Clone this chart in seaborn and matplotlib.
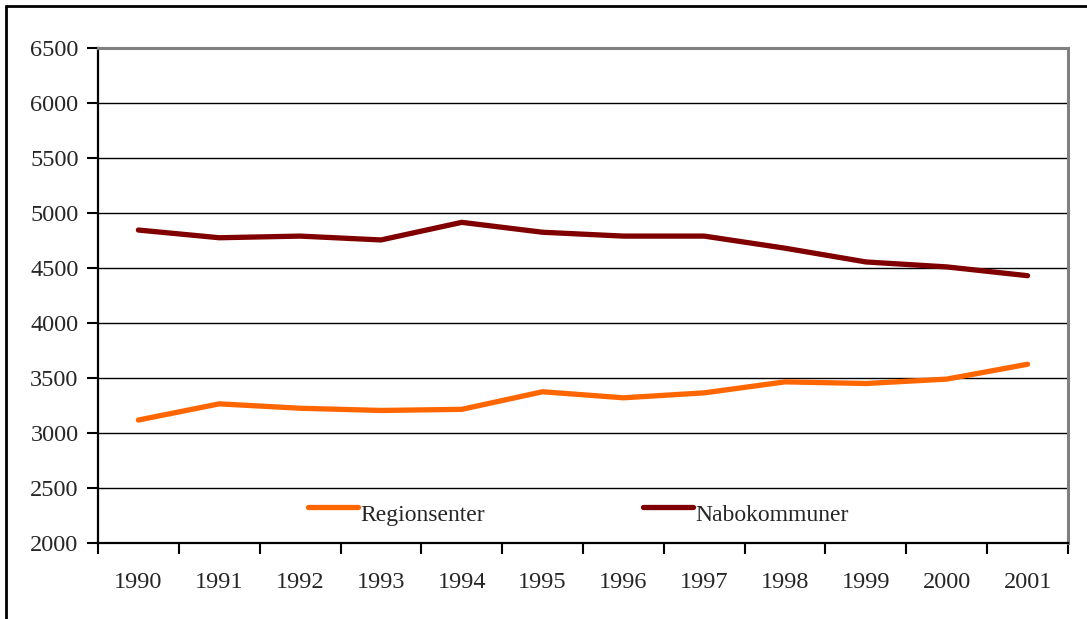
import numpy as np
import pandas as pd
import matplotlib
matplotlib.use("Agg")
import matplotlib.pyplot as plt
from matplotlib.lines import Line2D
import seaborn as sns

aar = [1990, 1991, 1992, 1993, 1994, 1995, 1996, 1997, 1998, 1999, 2000, 2001]
regionsenter = [3118, 3265, 3225, 3205, 3215, 3375, 3320, 3365, 3465, 3450, 3490, 3625]
nabokommuner = [4845, 4775, 4790, 4755, 4915, 4825, 4790, 4790, 4680, 4555, 4510, 4430]
y_ticks = [2000, 2500, 3000, 3500, 4000, 4500, 5000, 5500, 6000, 6500]

df = pd.DataFrame({
    "pos": list(range(len(aar))) * 2,
    "verdi": regionsenter + nabokommuner,
    "serie": ["Regionsenter"] * len(aar) + ["Nabokommuner"] * len(aar),
})

sns.set_style("white")
plt.rcParams['font.family'] = ['Liberation Serif', 'DejaVu Serif']

W, H = 1087, 619
fig = plt.figure(figsize=(W / 100, H / 100), dpi=100)
ax = fig.add_axes([98 / W, (H - 543) / H, 970 / W, 495 / H])

farger = {"Regionsenter": "#FF6600", "Nabokommuner": "#800000"}
sns.lineplot(data=df, x="pos", y="verdi", hue="serie", palette=farger,
             linewidth=3.8, ax=ax, legend=False, solid_capstyle="round")

ax.set_xlim(-0.5, len(aar) - 0.5)
ax.set_ylim(2000, 6500)
ax.set_yticks(y_ticks)
ax.set_yticklabels([str(v) for v in y_ticks])
ax.yaxis.grid(True, color="black", linewidth=1)
ax.set_axisbelow(True)

# ticks between categories, labels at centers
ax.set_xticks(np.arange(-0.5, len(aar), 1.0))
ax.set_xticklabels([])
ax.set_xticks(np.arange(len(aar)), minor=True)
ax.set_xticklabels([str(a) for a in aar], minor=True)
ax.tick_params(axis="x", which="minor", bottom=True, length=0, pad=21, labelsize=17.5)
ax.tick_params(axis="x", which="major", bottom=True, length=8, width=1.5, direction="out", color="black")
ax.tick_params(axis="y", left=True, length=8, width=1.5, direction="out", color="black", pad=6, labelsize=17.5)
ax.set_xlabel("")
ax.set_ylabel("")

for s in ["left", "bottom"]:
    ax.spines[s].set_color("black")
    ax.spines[s].set_linewidth(1.6)
for s in ["top", "right"]:
    ax.spines[s].set_color("#808080")
    ax.spines[s].set_linewidth(2.2)

handles = [Line2D([], [], color=farger[k], linewidth=3.8, solid_capstyle="round") for k in farger]
leg = ax.legend(handles, list(farger.keys()), loc="center left", bbox_to_anchor=(0.217, 0.068),
                ncol=2, frameon=False, fontsize=17, handlelength=2.1, handletextpad=0.1,
                columnspacing=6.7, borderpad=0, borderaxespad=0)
# Excel puts the legend text a bit below the line sample
for t in leg.get_texts():
    t.set_y(-6)

# outer frame
fig.add_artist(Line2D([6 / W, 1], [1 - 6 / H, 1 - 6 / H], color="black", linewidth=2, transform=fig.transFigure))
fig.add_artist(Line2D([6 / W, 6 / W], [0, 1 - 6 / H], color="black", linewidth=2, transform=fig.transFigure))

plt.savefig("out.png", dpi=100)
